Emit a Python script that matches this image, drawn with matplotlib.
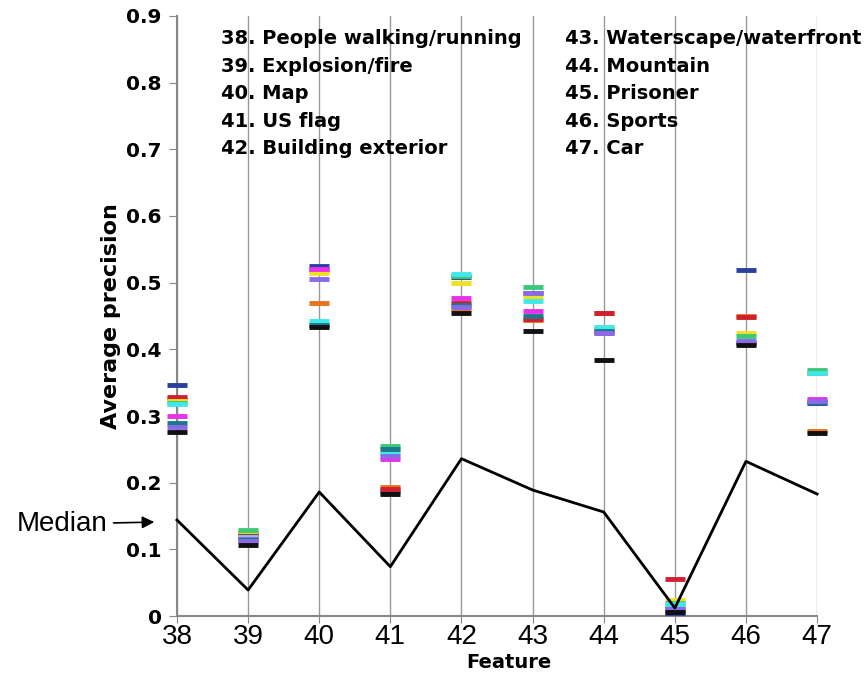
import numpy as np
import matplotlib.pyplot as plt

# features and median AP
features = [38, 39, 40, 41, 42, 43, 44, 45, 46, 47]
median_ap = [0.144, 0.039, 0.186, 0.074, 0.236, 0.189, 0.156, 0.012, 0.232, 0.183]

feature_names = ["People walking/running", "Explosion/fire", "Map", "US flag",
                 "Building exterior", "Waterscape/waterfront", "Mountain",
                 "Prisoner", "Sports", "Car"]

# per-run average precision for each feature
run_colors = ["#2b3fa0", "#e8731a", "#d02030", "#f0e020", "#3cc878",
              "#40e8e8", "#e830e8", "#1a7a8a", "#8a6ae8", "#111111"]
ap_blue    = [0.346, 0.121, 0.525, 0.188, 0.508, 0.484, 0.427, 0.004, 0.519, 0.320]
ap_orange  = [0.325, 0.120, 0.470, 0.193, 0.460, 0.444, 0.455, 0.015, 0.450, 0.278]
ap_red     = [0.328, 0.125, 0.519, 0.190, 0.470, 0.446, 0.455, 0.055, 0.448, 0.365]
ap_yellow  = [0.323, 0.127, 0.515, 0.250, 0.499, 0.479, 0.430, 0.024, 0.424, 0.366]
ap_green   = [0.320, 0.129, 0.437, 0.255, 0.510, 0.494, 0.430, 0.020, 0.420, 0.369]
ap_cyan    = [0.318, 0.118, 0.443, 0.245, 0.513, 0.473, 0.434, 0.018, 0.410, 0.364]
ap_magenta = [0.300, 0.116, 0.520, 0.236, 0.477, 0.457, 0.425, 0.010, 0.410, 0.325]
ap_teal    = [0.289, 0.114, 0.436, 0.250, 0.467, 0.450, 0.428, 0.008, 0.410, 0.321]
ap_purple  = [0.284, 0.112, 0.505, 0.240, 0.463, 0.484, 0.424, 0.011, 0.412, 0.323]
ap_black   = [0.276, 0.106, 0.434, 0.183, 0.454, 0.428, 0.384, 0.006, 0.407, 0.274]
runs = [ap_blue, ap_orange, ap_red, ap_yellow, ap_green,
        ap_cyan, ap_magenta, ap_teal, ap_purple, ap_black]

fig = plt.figure(figsize=(8.65, 6.85), dpi=100)
ax = fig.add_axes([0.2046, 0.1007, 0.74, 0.876])

# runs as short horizontal dashes
for vals, col in zip(runs, run_colors):
    ax.plot(features, vals, linestyle="none", marker="_", markersize=14,
            markeredgewidth=3.5, color=col, zorder=3, clip_on=False)

ax.plot(features, median_ap, color="black", linewidth=2, zorder=4, clip_on=False)

ax.set_xlim(38, 47)
ax.set_ylim(0, 0.9)
ax.set_xticks(features)
ax.set_yticks(np.arange(0, 0.91, 0.1))
ax.set_yticklabels(["0"] + [f"{v:.1f}" for v in np.arange(0.1, 0.91, 0.1)],
                   fontweight="bold", fontsize=14.5, family="DejaVu Sans")
ax.tick_params(axis="x", labelsize=20, length=5, color="#888888", pad=1)
ax.tick_params(axis="y", length=6, color="#888888", pad=5)
for lab in ax.get_xticklabels():
    lab.set_family("Liberation Sans")

ax.grid(axis="x", color="#999999", linewidth=1)
ax.set_axisbelow(True)
for s in ["top", "right"]:
    ax.spines[s].set_visible(False)
for s in ["left", "bottom"]:
    ax.spines[s].set_color("#888888")
    ax.spines[s].set_linewidth(1.5)

ax.set_xlabel("Feature", fontsize=14, fontweight="bold", family="DejaVu Sans", labelpad=1)
ax.xaxis.set_label_coords(0.519, -0.062)
ax.set_ylabel("Average precision", fontsize=16, fontweight="bold", family="DejaVu Sans", labelpad=4)

# feature key in two columns
for i, (f, name) in enumerate(zip(features, feature_names)):
    col_x = 38.62 if i < 5 else 43.46
    row_y = 0.866 - (i % 5) * 0.0413
    ax.text(col_x, row_y, f"{f}. {name}", fontsize=14, fontweight="bold",
            family="DejaVu Sans", va="center", ha="left", zorder=5)

ax.annotate("Median", xy=(37.72, 0.141), xytext=(37.03, 0.138),
            fontsize=20, family="Liberation Sans", ha="right", va="center",
            annotation_clip=False,
            arrowprops=dict(arrowstyle="-|>", color="black", lw=1.2, mutation_scale=18))

fig.savefig("out.png", dpi=100)
